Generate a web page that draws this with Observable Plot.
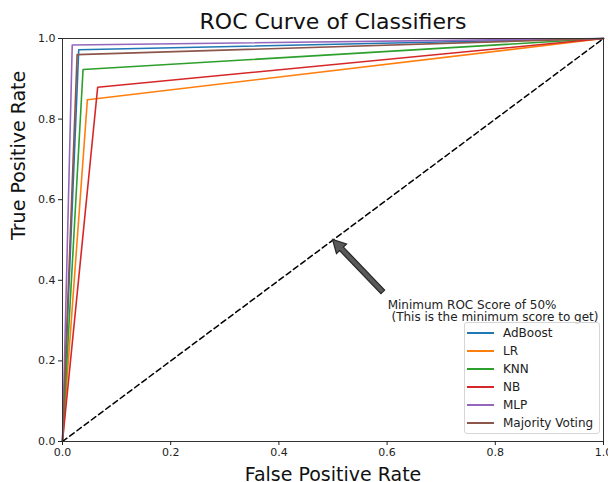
<!DOCTYPE html>
<html>
<head>
<meta charset="utf-8">
<script src="https://cdn.jsdelivr.net/npm/d3@7"></script>
<script src="https://cdn.jsdelivr.net/npm/@observablehq/plot@0.6"></script>
<style>
  html, body { margin: 0; padding: 0; background: white; }
  #wrap { position: relative; width: 608px; height: 482px; font-family: "DejaVu Sans", sans-serif; }
  #legend { position: absolute; left: 464px; top: 322px; width: 136px; box-sizing: border-box; border: 1px solid #d6d6d6; border-radius: 3px; background: rgba(255,255,255,0.85); padding: 1px 0 1px 0; font-size: 12px; color: #222; }
  #legend .row { position: relative; height: 18px; line-height: 18px; white-space: nowrap; padding-left: 38px; }
  #legend .sw { position: absolute; left: 2px; top: 8px; width: 27px; height: 2px; }
</style>
</head>
<body>
<div id="wrap"><div id="legend"></div></div>
<script>
// Series (classifier names), colours, and operating points (FPR, TPR)
const classifiers = ["AdBoost", "LR", "KNN", "NB", "MLP", "Majority Voting"];
const colors = ["#1f77b4", "#ff7f0e", "#2ca02c", "#d62728", "#9467bd", "#8c564b"];
const fpr = [0.030, 0.046, 0.038, 0.065, 0.018, 0.027];
const tpr = [0.972, 0.848, 0.923, 0.879, 0.984, 0.960];
const xTicks = [0, 0.2, 0.4, 0.6, 0.8, 1.0];
const yTicks = [0, 0.2, 0.4, 0.6, 0.8, 1.0];
const chanceLine = [[0, 0], [1, 1]];
const annoText = "Minimum ROC Score of 50%\n (This is the minimum score to get)";
const annoTip = [0.5, 0.5];
const annoTail = [0.593, 0.37];
const annoTextPos = [0.601, 0.345];

const rows = [];
classifiers.forEach((c, i) => {
  rows.push({name: c, x: 0, y: 0, order: 0});
  rows.push({name: c, x: fpr[i], y: tpr[i], order: 1});
  rows.push({name: c, x: 1, y: 1, order: 2});
});

function fatArrow(index, scales) {
  const x1 = scales.x(annoTail[0]), y1 = scales.y(annoTail[1]);
  const x2 = scales.x(annoTip[0]), y2 = scales.y(annoTip[1]);
  const dx = x2 - x1, dy = y2 - y1, L = Math.hypot(dx, dy);
  const ux = dx / L, uy = dy / L, px = -uy, py = ux;
  const hw = 2.6, headW = 7, headL = 13;
  const bx = x2 - ux * headL, by = y2 - uy * headL;
  const pts = [
    [x1 + px * hw, y1 + py * hw],
    [bx + px * hw, by + py * hw],
    [bx + px * headW, by + py * headW],
    [x2, y2],
    [bx - px * headW, by - py * headW],
    [bx - px * hw, by - py * hw],
    [x1 - px * hw, y1 - py * hw]
  ];
  const g = d3.create("svg:path")
    .attr("d", "M" + pts.map(p => p.join(",")).join("L") + "Z")
    .attr("fill", "#595959")
    .attr("stroke", "#262626")
    .attr("stroke-width", 1.2)
    .attr("stroke-linejoin", "miter");
  return g.node();
}

const plot = Plot.plot({
  width: 608,
  height: 482,
  marginLeft: 62,
  marginRight: 5,
  marginTop: 38,
  marginBottom: 41,
  style: {fontFamily: "DejaVu Sans, sans-serif", fontSize: "11px", color: "#222", background: "white"},
  x: {domain: [0, 1], ticks: xTicks, tickFormat: d3.format(".1f"), label: null, tickSize: 4},
  y: {domain: [0, 1], ticks: yTicks, tickFormat: d3.format(".1f"), label: null, tickSize: 4},
  color: {domain: classifiers, range: colors},
  marks: [
    Plot.line(rows, {x: "x", y: "y", z: "name", stroke: "name", strokeWidth: 1.6, sort: "order"}),
    Plot.line(chanceLine, {x: d => d[0], y: d => d[1], stroke: "black", strokeWidth: 1.5, strokeDasharray: "5.5,3.5"}),
    fatArrow,
    Plot.text([annoText], {x: annoTextPos[0], y: annoTextPos[1], text: d => d, textAnchor: "start", lineAnchor: "top", lineHeight: 1.02, fontSize: 12, fill: "#222", dy: -2}),
    Plot.frame({stroke: "#333", strokeWidth: 1}),
    Plot.axisX({ticks: xTicks, tickFormat: d3.format(".1f"), tickSize: 4, tickPadding: 3, label: null, fontSize: 11}),
    Plot.axisY({ticks: yTicks, tickFormat: d3.format(".1f"), tickSize: 4, tickPadding: 3, label: null, fontSize: 11}),
    Plot.text(["ROC Curve of Classifiers"], {frameAnchor: "top", lineAnchor: "middle", text: d => d, dy: -17, fontSize: 22, fill: "#111"}),
    Plot.text(["False Positive Rate"], {frameAnchor: "bottom", lineAnchor: "middle", text: d => d, dy: 33, fontSize: 19, fill: "#111"}),
    Plot.text(["True Positive Rate"], {frameAnchor: "left", text: d => d, dx: -44, rotate: -90, fontSize: 19, fill: "#111"})
  ]
});

const wrap = document.getElementById("wrap");
wrap.insertBefore(plot, wrap.firstChild);

const legend = document.getElementById("legend");
classifiers.forEach((c, i) => {
  const row = document.createElement("div");
  row.className = "row";
  const sw = document.createElement("div");
  sw.className = "sw";
  sw.style.background = colors[i];
  row.appendChild(sw);
  row.appendChild(document.createTextNode(c));
  legend.appendChild(row);
});
</script>
</body>
</html>
